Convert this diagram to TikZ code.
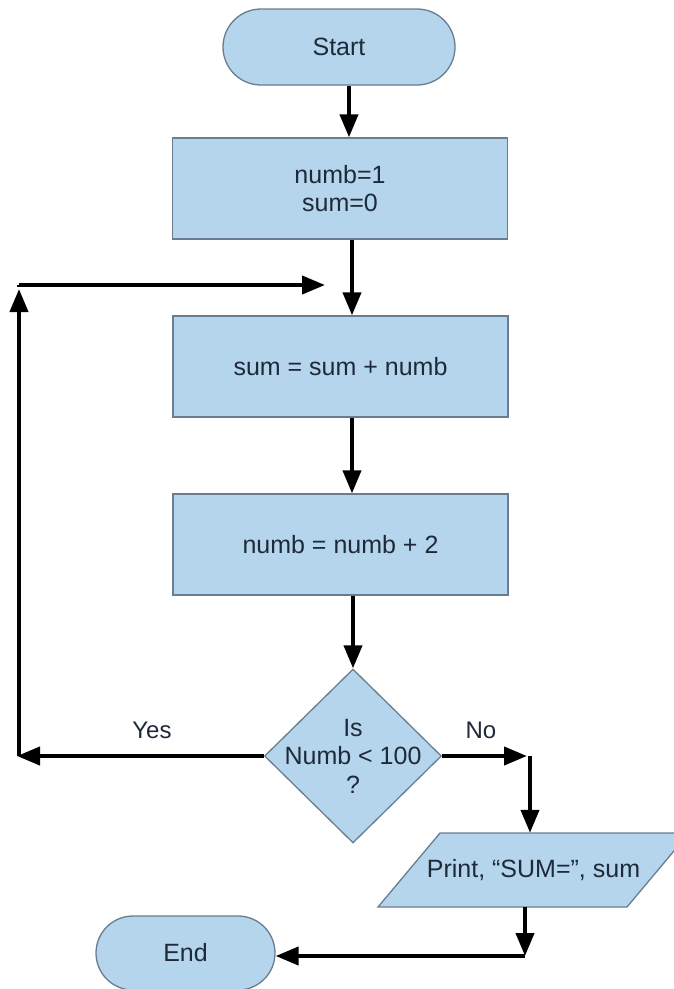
\documentclass[tikz,border=0pt]{standalone}
\usepackage{fontspec}
\setmainfont{Liberation Sans}
\usetikzlibrary{shapes.geometric,shapes.misc,arrows.meta,calc}
\definecolor{boxfill}{RGB}{181,213,236}
\definecolor{boxline}{RGB}{105,125,145}
\definecolor{txt}{RGB}{30,42,58}
\begin{document}
\begin{tikzpicture}[x=1pt,y=-1pt,
  every node/.style={font=\fontsize{25}{28.5}\selectfont, text=txt, align=center},
  shapebox/.style={draw=boxline, fill=boxfill, line width=1.3pt},
  term/.style={shapebox, rounded rectangle, inner sep=0pt},
  proc/.style={shapebox, rectangle, inner sep=0pt, minimum width=335pt},
  decis/.style={shapebox, diamond, inner sep=0pt, minimum width=177pt, minimum height=174pt},
  iotext/.style={inner sep=0pt, minimum width=249pt, minimum height=74pt},
  flow/.style={line width=4pt, -{Triangle[length=23pt,width=18pt]}},
  lbl/.style={font=\fontsize{24}{28}\selectfont}]
\useasboundingbox (0,0) rectangle (674,989);
\clip (0,0) rectangle (674,989);
\fill[white] (0,0) rectangle (674,989);

\node[term, minimum width=232pt, minimum height=76pt] (start) at (339,47) {Start};
\node[proc, minimum height=101pt] (init) at (340,188.5) {numb=1\\sum=0};
\node[proc, minimum height=101pt] (sumbox) at (340.5,366.5) {sum = sum + numb};
\node[proc, minimum height=101pt] (numbbox) at (340.5,544.5) {numb = numb + 2};
\node[decis] (dec) at (353,756) {};
\node (dectext) at (dec.center) {Is\\Numb < 100\\?};

\coordinate (pc) at (533.5,870);
\draw[shapebox] ($(pc)+(-155.5,37)$) -- ($(pc)+(93.5,37)$) -- ($(pc)+(155.5,-37)$)
  -- ($(pc)+(-93.5,-37)$) -- cycle;
\node[iotext] (print) at (pc) {Print, “SUM=”, sum};

\node[term, minimum width=179pt, minimum height=74pt] (end) at (185.5,953) {End};

\node[lbl] (yes) at (152,730) {Yes};
\node[lbl] (no) at (481,730) {No};

\coordinate (loopL) at (19,285);
\coordinate (loopR) at (325,285);
\coordinate (yesL) at (17,756);
\coordinate (noR) at (527,756);
\coordinate (noB) at (530,756);
\coordinate (pr) at (525,956);

\draw[flow] (start.south -| 349,0) -- (init.north -| 349,0);
\draw[flow] (init.south -| 352,0) -- (sumbox.north -| 352,0);
\draw[flow] (sumbox.south -| 352,0) -- (numbbox.north -| 352,0);
\draw[flow] (numbbox.south -| dec.north) -- (dec.north);
\draw[flow] (dec.west) -- (yesL);
\draw[flow] (19,756) -- (19,289);
\draw[flow] (19,285) -- (loopR);
\draw[line width=4pt] (19,287) -- (loopL);
\draw[flow] (dec.east) -- (noR);
\draw[flow] (noB) -- (noB |- print.north);
\draw[flow] (print.south -| pr) -- (pr);
\draw[flow] (pr) -- (pr -| end.east);
\end{tikzpicture}
\end{document}
